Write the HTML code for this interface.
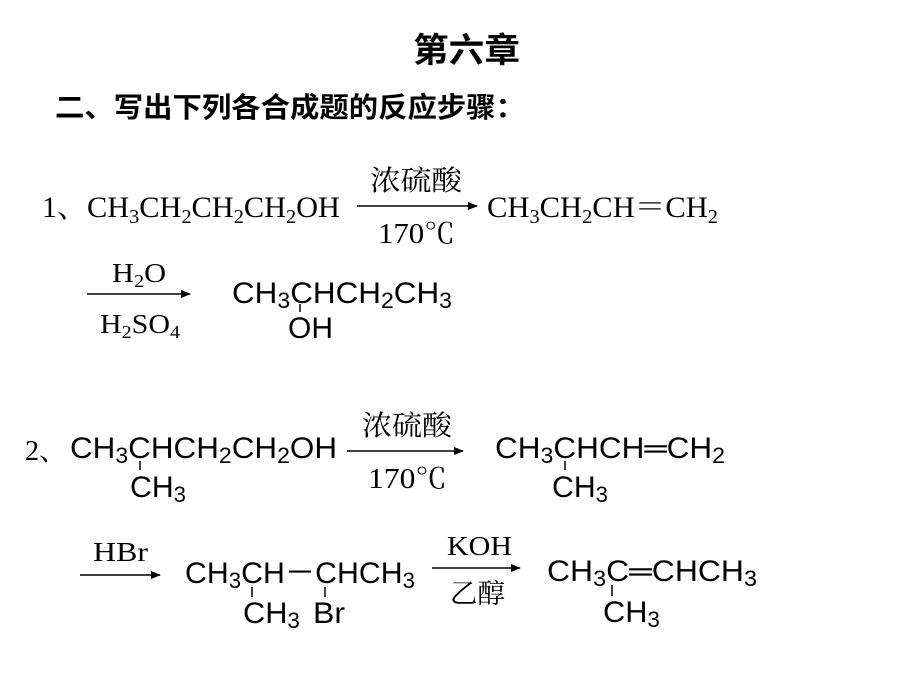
<!DOCTYPE html>
<html><head><meta charset="utf-8"><style>
html,body{margin:0;padding:0;background:#fff;}
svg{display:block}
.s{font-family:"Liberation Serif","Noto Serif CJK SC",serif;}
.a{font-family:"Liberation Sans","Noto Sans CJK SC",sans-serif;}
.c{font-family:"Liberation Serif","Noto Serif CJK SC","Noto Sans CJK SC",serif;}
</style></head><body>
<svg width="920" height="690" viewBox="0 0 920 690" xmlns="http://www.w3.org/2000/svg">
<defs><marker id="ar" markerWidth="10" markerHeight="8" refX="9" refY="4" orient="auto" markerUnits="userSpaceOnUse"><path d="M0,0 L10,4 L0,8 z" fill="#000"/></marker></defs>
<g fill="#000">
<text x="413" y="62" font-family="'Noto Sans CJK SC',sans-serif" font-weight="bold" font-size="34" textLength="107" lengthAdjust="spacingAndGlyphs">第六章</text>
<text x="55" y="117" font-family="'Noto Sans CJK SC',sans-serif" font-weight="bold" font-size="28" textLength="470" lengthAdjust="spacingAndGlyphs">二、写出下列各合成题的反应步骤：</text>

<!-- line 1 -->
<text class="s" x="42" y="217" font-size="30">1、</text>
<text class="s" x="87" y="217" font-size="30" textLength="253" lengthAdjust="spacingAndGlyphs">CH<tspan font-size="20" dy="6">3</tspan><tspan dy="-6">CH</tspan><tspan font-size="20" dy="6">2</tspan><tspan dy="-6">CH</tspan><tspan font-size="20" dy="6">2</tspan><tspan dy="-6">CH</tspan><tspan font-size="20" dy="6">2</tspan><tspan dy="-6">OH</tspan></text>
<line x1="357" y1="206" x2="477" y2="206" stroke="#000" stroke-width="1.5" marker-end="url(#ar)"/>
<text class="c" x="370" y="190" font-size="28" textLength="92" lengthAdjust="spacingAndGlyphs">浓硫酸</text>
<text class="s" x="378" y="243" font-size="28" textLength="77" lengthAdjust="spacingAndGlyphs">170℃</text>
<text class="s" x="487" y="217" font-size="30" textLength="231" lengthAdjust="spacingAndGlyphs">CH<tspan font-size="20" dy="6">3</tspan><tspan dy="-6">CH</tspan><tspan font-size="20" dy="6">2</tspan><tspan dy="-6">CH＝CH</tspan><tspan font-size="20" dy="6">2</tspan></text>

<!-- line 2 -->
<line x1="87" y1="294" x2="190" y2="294" stroke="#000" stroke-width="1.5" marker-end="url(#ar)"/>
<text class="s" x="112" y="282" font-size="27" textLength="54" lengthAdjust="spacingAndGlyphs">H<tspan font-size="18" dy="5">2</tspan><tspan dy="-5">O</tspan></text>
<text class="s" x="100" y="333" font-size="27" textLength="80" lengthAdjust="spacingAndGlyphs">H<tspan font-size="18" dy="5">2</tspan><tspan dy="-5">SO</tspan><tspan font-size="18" dy="5">4</tspan></text>
<text class="a" x="232" y="303" font-size="30" textLength="220" lengthAdjust="spacingAndGlyphs">CH<tspan font-size="22" dy="5">3</tspan><tspan dy="-5">CHCH</tspan><tspan font-size="22" dy="5">2</tspan><tspan dy="-5">CH</tspan><tspan font-size="22" dy="5">3</tspan></text>
<line x1="300" y1="304" x2="300" y2="312" stroke="#000" stroke-width="1.5"/>
<text class="a" x="288" y="338" font-size="30" textLength="45" lengthAdjust="spacingAndGlyphs">OH</text>

<!-- line 3 -->
<text class="s" x="25" y="460" font-size="28">2、</text>
<text class="a" x="70" y="458" font-size="30" textLength="267" lengthAdjust="spacingAndGlyphs">CH<tspan font-size="22" dy="5">3</tspan><tspan dy="-5">CHCH</tspan><tspan font-size="22" dy="5">2</tspan><tspan dy="-5">CH</tspan><tspan font-size="22" dy="5">2</tspan><tspan dy="-5">OH</tspan></text>
<line x1="140" y1="461" x2="140" y2="470" stroke="#000" stroke-width="1.5"/>
<text class="a" x="130" y="497" font-size="30" textLength="56" lengthAdjust="spacingAndGlyphs">CH<tspan font-size="22" dy="5">3</tspan></text>
<line x1="347" y1="451" x2="463" y2="451" stroke="#000" stroke-width="1.5" marker-end="url(#ar)"/>
<text class="c" x="362" y="435" font-size="28" textLength="90" lengthAdjust="spacingAndGlyphs">浓硫酸</text>
<text class="s" x="368" y="488" font-size="28" textLength="79" lengthAdjust="spacingAndGlyphs">170℃</text>
<text class="a" x="495" y="458" font-size="30" textLength="230" lengthAdjust="spacingAndGlyphs">CH<tspan font-size="22" dy="5">3</tspan><tspan dy="-5">CHCH═CH</tspan><tspan font-size="22" dy="5">2</tspan></text>
<line x1="565" y1="461" x2="565" y2="470" stroke="#000" stroke-width="1.5"/>
<text class="a" x="552" y="497" font-size="30" textLength="56" lengthAdjust="spacingAndGlyphs">CH<tspan font-size="22" dy="5">3</tspan></text>

<!-- line 4 -->
<line x1="80" y1="575" x2="160" y2="575" stroke="#000" stroke-width="1.5" marker-end="url(#ar)"/>
<text class="s" x="93" y="561" font-size="27" textLength="55" lengthAdjust="spacingAndGlyphs">HBr</text>
<text class="a" x="185" y="583" font-size="30" textLength="230" lengthAdjust="spacingAndGlyphs">CH<tspan font-size="22" dy="5">3</tspan><tspan dy="-5">CH－CHCH</tspan><tspan font-size="22" dy="5">3</tspan></text>
<line x1="252" y1="587" x2="252" y2="597" stroke="#000" stroke-width="1.5"/>
<line x1="325" y1="587" x2="325" y2="597" stroke="#000" stroke-width="1.5"/>
<text class="a" x="243" y="623" font-size="30" textLength="57" lengthAdjust="spacingAndGlyphs">CH<tspan font-size="22" dy="5">3</tspan></text>
<text class="a" x="313" y="623" font-size="30" textLength="32" lengthAdjust="spacingAndGlyphs">Br</text>
<line x1="432" y1="568" x2="520" y2="568" stroke="#000" stroke-width="1.5" marker-end="url(#ar)"/>
<text class="s" x="447" y="555" font-size="27" textLength="65" lengthAdjust="spacingAndGlyphs">KOH</text>
<text class="c" x="450" y="603" font-size="27" textLength="55" lengthAdjust="spacingAndGlyphs">乙醇</text>
<text class="a" x="547" y="581" font-size="30" textLength="210" lengthAdjust="spacingAndGlyphs">CH<tspan font-size="22" dy="5">3</tspan><tspan dy="-5">C═CHCH</tspan><tspan font-size="22" dy="5">3</tspan></text>
<line x1="612" y1="585" x2="612" y2="596" stroke="#000" stroke-width="1.5"/>
<text class="a" x="603" y="622" font-size="30" textLength="57" lengthAdjust="spacingAndGlyphs">CH<tspan font-size="22" dy="5">3</tspan></text>
</g>
</svg>
</body></html>
